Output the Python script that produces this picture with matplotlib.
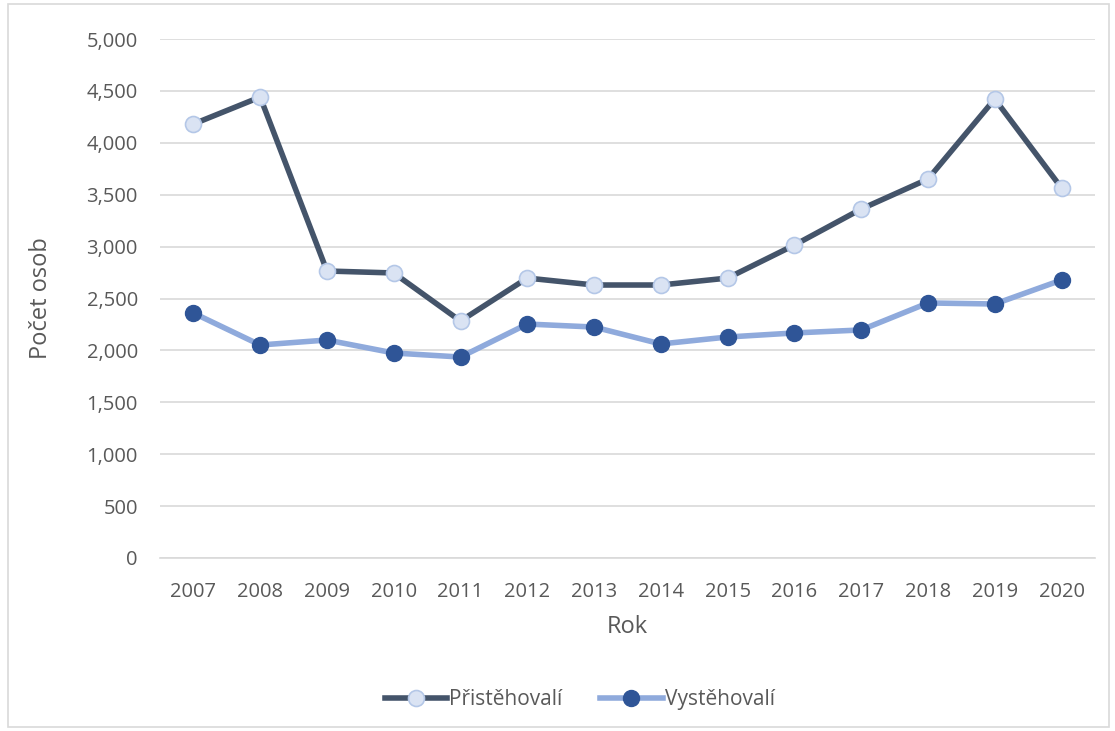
import matplotlib
matplotlib.use('Agg')
import matplotlib.pyplot as plt
from matplotlib.patches import Rectangle
from matplotlib.ticker import FuncFormatter

plt.rcParams['font.family'] = ['Open Sans', 'DejaVu Sans']

# data
years = ['2007', '2008', '2009', '2010', '2011', '2012', '2013',
         '2014', '2015', '2016', '2017', '2018', '2019', '2020']
prist = [4181, 4441, 2765, 2746, 2283, 2697, 2630,
         2630, 2697, 3015, 3362, 3651, 4422, 3565]
vyst = [2360, 2052, 2100, 1975, 1936, 2254, 2225,
        2062, 2129, 2168, 2197, 2457, 2447, 2678]

fig = plt.figure(figsize=(11.15, 7.31), dpi=100)
ax = fig.add_axes([0.1435, 0.2367, 0.8385, 0.7099])

# chart border
fig.patches.append(Rectangle((0.007, 0.006), 0.988, 0.988, transform=fig.transFigure,
                             fill=False, edgecolor='#d9d9d9', linewidth=1.2))

x = range(len(years))
ax.plot(x, prist, color='#44546A', linewidth=4, marker='o', markersize=11.5,
        markerfacecolor='#DAE3F3', markeredgecolor='#B4C7E7', markeredgewidth=1.2,
        label='Přistěhovalí', zorder=3)
ax.plot(x, vyst, color='#8FAADC', linewidth=4, marker='o', markersize=11.5,
        markerfacecolor='#2F5597', markeredgecolor='#2F5597',
        label='Vystěhovalí', zorder=3)

ax.set_xlim(-0.5, len(years) - 0.5)
ax.set_ylim(0, 5000)
ax.set_yticks(range(0, 5001, 500))
ax.yaxis.set_major_formatter(FuncFormatter(lambda v, p: f'{int(v):,}'))
ax.set_xticks(list(x))
ax.set_xticklabels(years)

ax.grid(axis='y', color='#d9d9d9', linewidth=1.2)
ax.set_axisbelow(True)
for s in ['top', 'right', 'left']:
    ax.spines[s].set_visible(False)
ax.spines['bottom'].set_color('#d9d9d9')
ax.spines['bottom'].set_linewidth(1.2)
ax.tick_params(length=0, labelsize=14.5, labelcolor='#595959')
ax.tick_params(axis='x', pad=17)
ax.tick_params(axis='y', pad=16)

ax.set_xlabel('Rok', fontsize=17, color='#595959', labelpad=10)
ax.set_ylabel('Počet osob', fontsize=17, color='#595959', labelpad=24)

fig.legend(loc='center', bbox_to_anchor=(0.52, 0.043), ncol=2, frameon=False,
           fontsize=15, labelcolor='#595959', handlelength=3.0, columnspacing=1.8,
           handletextpad=0.1)

plt.savefig('out.png', dpi=100, facecolor='white')
